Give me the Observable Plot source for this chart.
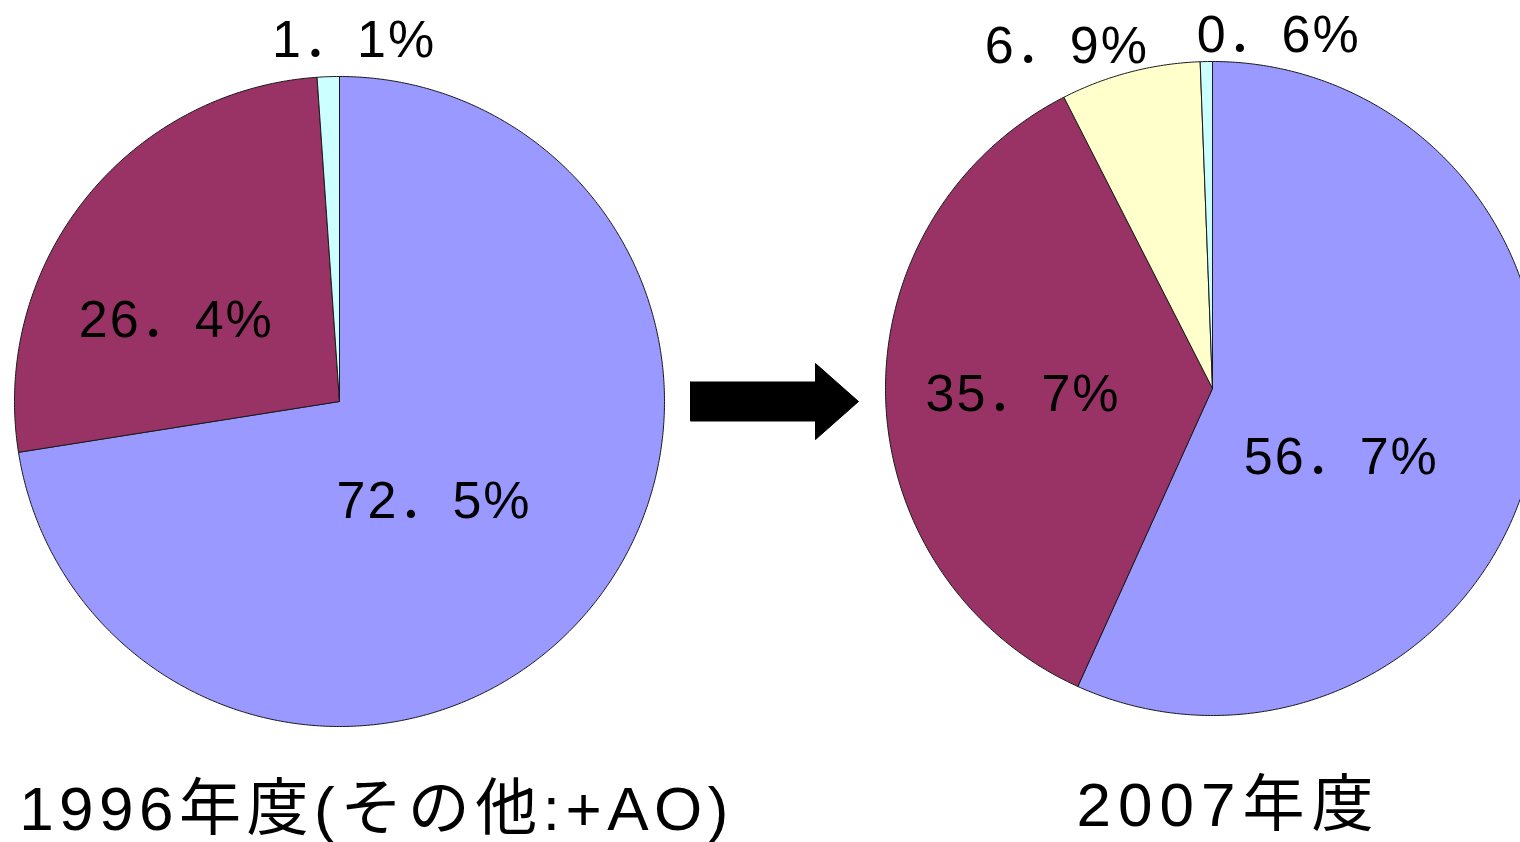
<!DOCTYPE html>
<html>
<head>
<meta charset="utf-8">
<script src="https://cdn.jsdelivr.net/npm/d3@7"></script>
<script src="https://cdn.jsdelivr.net/npm/@observablehq/plot@0.6"></script>
<style>
  html, body { margin: 0; padding: 0; background: #fff; overflow: hidden; }
  .pie-label text { letter-spacing: 2px; }
  .title-left text { letter-spacing: 5.5px; }
  .title-right text { letter-spacing: 7px; }
</style>
</head>
<body>
<div id="chart"></div>
<script>
// Shares by fiscal year (percent), slices clockwise from 12 o'clock
const titles = ["1996年度(その他:+AO)", "2007年度"];
const share1996 = [72.5, 26.4, 1.1];
const share2007 = [56.7, 35.7, 6.9, 0.6];
const colors1996 = ["#9999FF", "#993366", "#CCFFFF"];
const colors2007 = ["#9999FF", "#993366", "#FFFFCC", "#CCFFFF"];

// Layout (pixels in a 1520×842 frame)
const W = 1520, H = 842;
const pies = [
  {title: titles[0], values: share1996, colors: colors1996, cx: 339, cy: 401, r: 325,
   tx: 376, ty: 810, cls: "title-left",
   // label placement: radius fraction along the mid-angle, plus a nudge
   place: [[0.5, -30, -6], [0.5, -37, 20], [1.1, 26, -4]]},
  {title: titles[1], values: share2007, colors: colors2007, cx: 1212, cy: 388, r: 327,
   tx: 1228, ty: 806, cls: "title-right",
   place: [[0.5, -32, 34], [0.5, -27, 2], [1.1, -56, 6], [1.1, 72, 6]]}
];

const fmt = v => v.toFixed(1).replace(".", "．") + "%";

const slices = [];
const labels = [];
pies.forEach((p, pi) => {
  const total = d3.sum(p.values);
  let acc = 0;
  p.values.forEach((v, i) => {
    const a0 = acc / total * 2 * Math.PI;
    const a1 = (acc + v) / total * 2 * Math.PI;
    acc += v;
    const key = `${pi}-${i}`;
    const fill = p.colors[i];
    slices.push({key, fill, x: p.cx, y: p.cy});
    const n = Math.max(2, Math.ceil((a1 - a0) / (Math.PI / 360)) + 1);
    for (let k = 0; k < n; ++k) {
      const t = a0 + (a1 - a0) * k / (n - 1);
      slices.push({key, fill, x: p.cx + p.r * Math.sin(t), y: p.cy - p.r * Math.cos(t)});
    }
    slices.push({key, fill, x: p.cx, y: p.cy});
    const mid = (a0 + a1) / 2;
    const [rf, dx, dy] = p.place[i];
    labels.push({
      text: fmt(v),
      x: p.cx + rf * p.r * Math.sin(mid) + dx + 1,
      y: p.cy - rf * p.r * Math.cos(mid) + dy
    });
  });
});

// Block arrow between the two years
const arrowY = 401, shaftH = 19.5, headH = 38;
const ax0 = 690, axHead = 815, axTip = 858;
const arrow = [
  [ax0, arrowY - shaftH], [axHead, arrowY - shaftH], [axHead, arrowY - headH],
  [axTip, arrowY], [axHead, arrowY + headH], [axHead, arrowY + shaftH],
  [ax0, arrowY + shaftH], [ax0, arrowY - shaftH]
].map(([x, y]) => ({x, y}));

const font = "'Liberation Sans', 'Noto Sans CJK JP', sans-serif";

const titleMark = p => Plot.text([p], {x: "tx", y: "ty", text: "title", fontSize: 62,
  fill: "#000", fontFamily: font, textAnchor: "middle", lineAnchor: "middle",
  className: p.cls});

const chart = Plot.plot({
  width: W,
  height: H,
  margin: 0,
  x: {domain: [0, W], range: [0, W], axis: null},
  y: {domain: [0, H], range: [0, H], axis: null},
  color: {type: "identity"},
  style: {background: "#fff", fontFamily: font},
  marks: [
    Plot.line(slices, {x: "x", y: "y", z: "key", fill: "fill", stroke: "#1a1a1a",
      strokeWidth: 1, strokeLinejoin: "round", curve: "linear"}),
    Plot.line(arrow, {x: "x", y: "y", fill: "#000", stroke: "#000", strokeWidth: 1}),
    Plot.text(labels, {x: "x", y: "y", text: "text", fontSize: 52, fill: "#000",
      fontFamily: font, textAnchor: "middle", lineAnchor: "middle", className: "pie-label"}),
    ...pies.map(titleMark)
  ]
});

document.getElementById("chart").appendChild(chart);
</script>
</body>
</html>
